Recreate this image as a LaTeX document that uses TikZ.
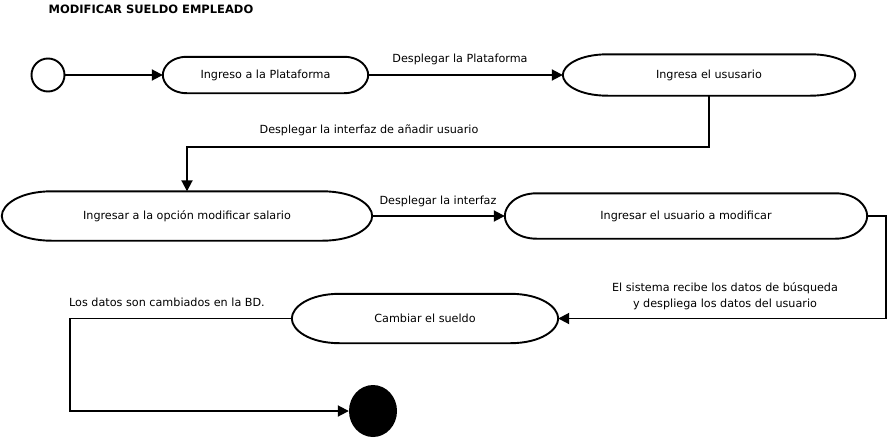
\documentclass[tikz,border=0pt]{standalone}
\usepackage{fontspec}
\setmainfont{DejaVu Sans}
\usetikzlibrary{arrows.meta,calc,shapes.geometric}
\tikzset{
  stline/.style={line width=1.9pt},
  st/.style={draw=none, inner sep=0pt, font=\fontsize{11.2}{13}\selectfont},
  lbl/.style={inner sep=0pt, font=\fontsize{11.2}{16}\selectfont},
  arr/.style={line width=1.9pt, -{Triangle[length=11pt,width=11pt]}},
}
\newcommand\stshape[2]{%
  \draw[stline] ([xshift=#2]#1.north west) -- ([xshift=-#2]#1.north east)
   .. controls ([xshift={-0.35*#2}]#1.north east) and ($(#1.east)!0.45!(#1.north east)$) .. (#1.east)
   .. controls ($(#1.east)!0.45!(#1.south east)$) and ([xshift={-0.35*#2}]#1.south east) .. ([xshift=-#2]#1.south east)
   -- ([xshift=#2]#1.south west)
   .. controls ([xshift={0.35*#2}]#1.south west) and ($(#1.west)!0.45!(#1.south west)$) .. (#1.west)
   .. controls ($(#1.west)!0.45!(#1.north west)$) and ([xshift={0.35*#2}]#1.north west) .. cycle;}
\begin{document}
\begin{tikzpicture}[x=1pt,y=-1pt]
\useasboundingbox (0,0) rectangle (890,439);
\node[inner sep=0pt, font=\fontsize{11.5}{13}\selectfont\bfseries] (title) at (151,9) {MODIFICAR SUELDO EMPLEADO};

\node[draw, circle, line width=1.9pt, minimum size=33pt, inner sep=0pt] (start) at (48,75) {};
\node[st, minimum width=205pt, minimum height=36pt] (n1) at (265.5,75) {Ingreso a la Plataforma};
\node[st, minimum width=292pt, minimum height=41pt] (n2) at (709,75) {Ingresa el ususario};
\node[st, minimum width=370pt, minimum height=49pt] (n3) at (187,216) {Ingresar a la opción modificar salario};
\node[st, minimum width=362pt, minimum height=45pt] (n4) at (686,216) {Ingresar el usuario a modificar};
\node[st, minimum width=266pt, minimum height=49pt] (n5) at (425,318.5) {Cambiar el sueldo};
\node[fill, ellipse, minimum width=48pt, minimum height=52pt, inner sep=0pt] (fin) at (373,411) {};

\stshape{n1}{24}
\stshape{n2}{45}
\stshape{n3}{50}
\stshape{n4}{32}
\stshape{n5}{48}

\coordinate (k1) at (187,147);
\coordinate (k2) at (886,318.5);
\coordinate (k3) at (70,411);

\draw[arr] (start) -- (n1.west);
\draw[arr] (n1.east) -- (n2.west);
\draw[arr] (n2.south) |- (k1) -- (n3.north);
\draw[arr] (n3.east) -- (n4.west);
\draw[arr] (n4.east) -| (k2) -- (n5.east);
\draw[arr] (n5.west) -| (k3) -- (fin.west);

\node[lbl] (l1) at (460,59) {Desplegar la Plataforma};
\node[lbl] (l2) at (369,130) {Desplegar la interfaz de añadir usuario};
\node[lbl] (l3) at (438,201) {Desplegar la interfaz};
\node[lbl, align=center] (l4) at (725,296) {El sistema recibe los datos de búsqueda\\y despliega los datos del usuario};
\node[lbl, anchor=west] (l5) at (69,302) {Los datos son cambiados en la BD.};
\end{tikzpicture}
\end{document}
